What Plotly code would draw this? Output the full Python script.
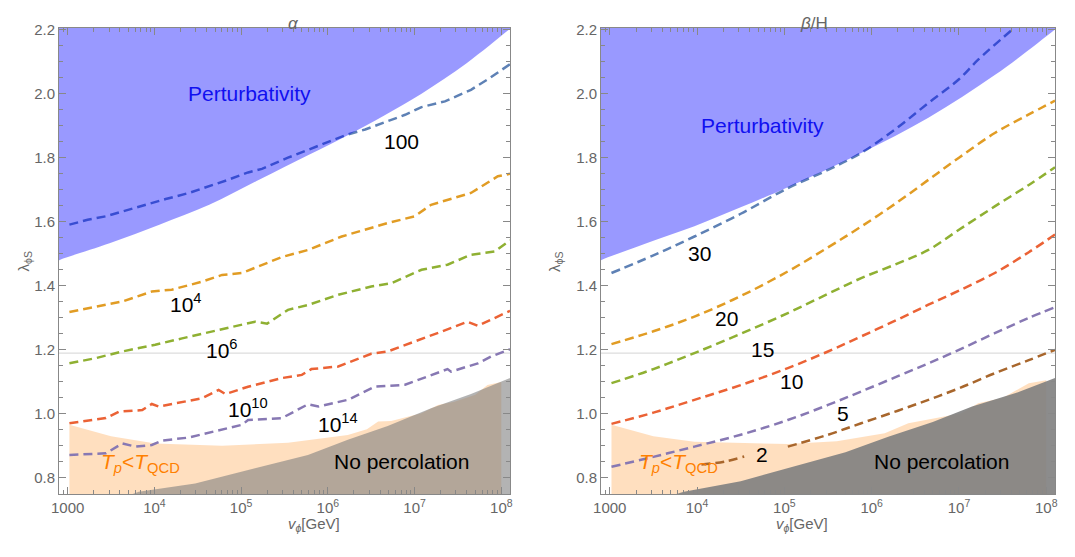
import plotly.graph_objects as go

# page is 1075x557; the browser body adds an 8px margin, so the figure is 16px smaller
PAGE_W, PAGE_H = 1075, 557
OFF = 8
W, H = PAGE_W - 2 * OFF, PAGE_H - 2 * OFF
FONT = "Liberation Sans"


def px_x(p):
    return (p - OFF) / W


def px_y(p):
    return 1 - (p - OFF) / H


# ---------------- axis ticks ----------------
xtick_exp = [3, 4, 5, 6, 7, 8]
xtick_text = ["1000", "10<sup>4</sup>", "10<sup>5</sup>", "10<sup>6</sup>", "10<sup>7</sup>", "10<sup>8</sup>"]
ytick_vals = [0.8, 1.0, 1.2, 1.4, 1.6, 1.8, 2.0, 2.2]
ytick_text = ["0.8", "1.0", "1.2", "1.4", "1.6", "1.8", "2.0", "2.2"]

# ---------------- LEFT PANEL (alpha) : x = log10(v_phi/GeV), y = lambda_phiS ----------------
L_pert_x = [2.80, 2.908, 3.483, 4.057, 4.632, 5.207, 5.782, 6.24, 6.65, 7.08, 7.60, 8.09, 8.30]
L_pert_y = [1.468, 1.481, 1.533, 1.591, 1.653, 1.731, 1.809, 1.872, 1.932, 2.000, 2.095, 2.200, 2.245]

L_peach_x = [3.02, 3.50, 4.01, 4.78, 5.54, 6.23, 6.45, 6.58, 6.73, 7.08, 7.27, 7.46, 7.70, 7.84, 7.96, 8.00]
L_peach_y = [0.966, 0.930, 0.908, 0.901, 0.910, 0.934, 0.952, 0.976, 0.978, 1.002, 1.028, 1.038, 1.060, 1.090, 1.096, 1.100]

L_gray_x = [3.70, 3.82, 4.47, 5.16, 5.77, 6.23, 6.69, 7.19, 7.65, 8.10]
L_gray_y = [0.745, 0.757, 0.783, 0.830, 0.872, 0.919, 0.962, 1.018, 1.062, 1.112]

a100_x = [3.02, 3.23, 3.44, 3.63, 3.90, 4.13, 4.40, 4.63, 4.85, 5.08, 5.24, 5.54, 5.85, 6.20, 6.43, 6.69, 6.89, 7.08, 7.35, 7.65, 7.84, 8.10]
a100_y = [1.591, 1.606, 1.617, 1.632, 1.653, 1.671, 1.690, 1.710, 1.731, 1.754, 1.765, 1.800, 1.832, 1.870, 1.888, 1.913, 1.934, 1.958, 1.976, 2.012, 2.044, 2.092]

a1e4_x = [3.02, 3.32, 3.63, 3.97, 4.20, 4.55, 4.78, 5.01, 5.47, 5.77, 6.16, 6.69, 7.00, 7.19, 7.65, 7.96, 8.10]
a1e4_y = [1.318, 1.335, 1.351, 1.382, 1.388, 1.413, 1.434, 1.440, 1.490, 1.512, 1.554, 1.596, 1.617, 1.653, 1.690, 1.742, 1.750]

a1e6_x = [3.02, 3.32, 3.63, 4.01, 4.32, 4.85, 5.16, 5.30, 5.54, 5.77, 6.12, 6.50, 6.73, 7.08, 7.38, 7.65, 7.92, 8.10]
a1e6_y = [1.158, 1.174, 1.195, 1.216, 1.236, 1.268, 1.288, 1.282, 1.325, 1.340, 1.372, 1.398, 1.408, 1.450, 1.466, 1.497, 1.507, 1.542]

a1e10_x = [3.02, 3.44, 3.59, 3.86, 3.97, 4.05, 4.55, 4.74, 4.82, 5.08, 5.47, 5.70, 5.81, 6.12, 6.50, 6.69, 7.31, 7.61, 7.73, 8.10]
a1e10_y = [0.971, 0.987, 1.007, 1.012, 1.031, 1.023, 1.049, 1.075, 1.062, 1.085, 1.112, 1.122, 1.140, 1.148, 1.188, 1.195, 1.257, 1.288, 1.275, 1.322]

a1e14_x = [3.02, 3.44, 3.63, 3.78, 3.97, 4.09, 4.39, 4.78, 5.01, 5.08, 5.47, 5.77, 5.89, 6.23, 6.54, 6.89, 7.11, 7.38, 7.42, 7.73, 7.88, 8.10]
a1e14_y = [0.872, 0.877, 0.908, 0.898, 0.903, 0.917, 0.926, 0.950, 0.966, 0.981, 0.987, 1.030, 1.023, 1.044, 1.085, 1.091, 1.112, 1.140, 1.132, 1.158, 1.179, 1.202]

# ---------------- RIGHT PANEL (beta/H) ----------------
R_pert_x = [2.80, 2.90, 3.39, 3.97, 4.50, 5.04, 5.88, 6.65, 7.41, 8.10, 8.30]
R_pert_y = [1.466, 1.480, 1.530, 1.586, 1.645, 1.708, 1.815, 1.925, 2.058, 2.200, 2.245]

R_peach_x = [3.02, 3.50, 3.97, 5.04, 5.60, 6.15, 6.42, 7.03, 7.22, 7.50, 7.80, 8.00]
R_peach_y = [0.966, 0.930, 0.913, 0.906, 0.915, 0.940, 0.971, 1.002, 1.033, 1.050, 1.096, 1.105]

R_gray_x = [3.70, 3.85, 4.50, 5.11, 5.70, 6.19, 6.70, 7.15, 7.65, 8.10]
R_gray_y = [0.745, 0.757, 0.790, 0.835, 0.880, 0.929, 0.975, 1.023, 1.065, 1.112]

b30_x = [3.02, 3.50, 3.97, 4.50, 5.04, 5.50, 5.88, 6.30, 6.65, 7.00, 7.22, 7.61]
b30_y = [1.440, 1.495, 1.554, 1.625, 1.705, 1.762, 1.815, 1.895, 1.971, 2.045, 2.106, 2.200]

b20_x = [3.02, 3.50, 3.97, 4.50, 5.04, 5.50, 5.88, 6.30, 6.65, 7.00, 7.41, 7.80, 8.10]
b20_y = [1.218, 1.258, 1.304, 1.368, 1.445, 1.520, 1.585, 1.662, 1.731, 1.800, 1.877, 1.935, 1.978]

b15_x = [3.02, 3.50, 3.97, 4.50, 5.04, 5.50, 5.88, 6.30, 6.65, 7.00, 7.41, 7.80, 8.10]
b15_y = [1.096, 1.140, 1.190, 1.250, 1.315, 1.375, 1.424, 1.470, 1.512, 1.575, 1.648, 1.715, 1.770]

b10_x = [3.02, 3.50, 3.97, 4.50, 5.04, 5.50, 5.88, 6.30, 6.65, 7.00, 7.41, 7.80, 8.10]
b10_y = [0.969, 1.004, 1.044, 1.090, 1.143, 1.195, 1.242, 1.295, 1.341, 1.385, 1.440, 1.505, 1.560]

b5_x = [3.02, 3.50, 3.97, 4.50, 5.04, 5.50, 5.88, 6.30, 6.65, 7.00, 7.41, 7.80, 8.10]
b5_y = [0.835, 0.866, 0.898, 0.935, 0.981, 1.028, 1.070, 1.118, 1.158, 1.200, 1.252, 1.300, 1.333]

b2a_x = [4.05, 4.31, 4.54]
b2a_y = [0.842, 0.851, 0.867]
b2b_x = [5.04, 5.50, 5.88, 6.30, 6.65, 7.00, 7.41, 7.80, 8.10]
b2b_y = [0.898, 0.935, 0.971, 1.010, 1.044, 1.080, 1.127, 1.168, 1.200]

# ---------------- labels ----------------
L_labels = [(5.10, 2.002, "Perturbativity", "#1010F0"),
            (6.85, 1.851, "100", "black"),
            (4.36, 1.346, "10<sup>4</sup>", "black"),
            (4.78, 1.203, "10<sup>6</sup>", "black"),
            (5.08, 1.020, "10<sup>10</sup>", "black"),
            (6.12, 0.973, "10<sup>14</sup>", "black"),
            (3.84, 0.846, "<i>T</i><sub><i>p</i></sub>&lt;<i>T</i><sub>QCD</sub>", "#FF8000"),
            (6.85, 0.851, "No percolation", "black")]
R_labels = [(4.75, 1.900, "Perturbativity", "#1010F0"),
            (4.03, 1.502, "30", "black"),
            (4.34, 1.299, "20", "black"),
            (4.75, 1.200, "15", "black"),
            (5.08, 1.101, "10", "black"),
            (5.67, 1.002, "5", "black"),
            (4.74, 0.872, "2", "black"),
            (3.79, 0.846, "<i>T</i><sub><i>p</i></sub>&lt;<i>T</i><sub>QCD</sub>", "#FF8000"),
            (6.80, 0.851, "No percolation", "black")]

C_BLUE, C_ORANGE, C_GREEN, C_RED, C_PURPLE, C_BROWN = "#5E81B5", "#E19C24", "#8FB032", "#EB6235", "#8778B3", "#A8662C"

fig = go.Figure()


def pw(lst):
    return [10 ** v for v in lst]


def add_line(xs, ys, color, xa, ya, shape="linear"):
    fig.add_trace(go.Scatter(x=pw(xs), y=ys, mode="lines", xaxis=xa, yaxis=ya,
                             line=dict(color=color, width=2.5, dash="9px,5px", shape=shape),
                             hoverinfo="skip", showlegend=False))


def add_poly(xs, ys, color, xa, ya, shape="linear"):
    fig.add_trace(go.Scatter(x=pw(xs), y=ys, mode="lines", fill="toself", fillcolor=color,
                             line=dict(width=0, color="rgba(0,0,0,0)", shape=shape), xaxis=xa, yaxis=ya,
                             hoverinfo="skip", showlegend=False))


for (xa, ya, peach_x, peach_y, gray_x, gray_y, gray_col) in [
        ("x", "y", L_peach_x, L_peach_y, L_gray_x, L_gray_y, "rgba(128,128,128,0.6)"),
        ("x2", "y2", R_peach_x, R_peach_y, R_gray_x, R_gray_y, "rgba(128,128,128,0.9)")]:
    # T_p < T_QCD region
    add_poly([peach_x[0]] + peach_x + [peach_x[-1]], [0.70] + peach_y + [0.70], "rgba(255,128,0,0.25)", xa, ya)
    # No percolation region
    add_poly(gray_x + [8.3, 8.3], gray_y + [1.13, 0.70], gray_col, xa, ya)

# contour lines
for xs, ys, c in [(a100_x, a100_y, C_BLUE), (a1e4_x, a1e4_y, C_ORANGE), (a1e6_x, a1e6_y, C_GREEN),
                  (a1e10_x, a1e10_y, C_RED), (a1e14_x, a1e14_y, C_PURPLE)]:
    add_line(xs, ys, c, "x", "y")
for xs, ys, c in [(b30_x, b30_y, C_BLUE), (b20_x, b20_y, C_ORANGE), (b15_x, b15_y, C_GREEN),
                  (b10_x, b10_y, C_RED), (b5_x, b5_y, C_PURPLE), (b2a_x, b2a_y, C_BROWN), (b2b_x, b2b_y, C_BROWN)]:
    add_line(xs, ys, c, "x2", "y2", shape="spline")

# perturbativity regions (on top of lines, semi-transparent)
add_poly(L_pert_x + [8.3, 2.8], L_pert_y + [2.4, 2.4], "rgba(0,0,255,0.4)", "x", "y", shape="spline")
add_poly(R_pert_x + [8.3, 2.8], R_pert_y + [2.4, 2.4], "rgba(0,0,255,0.4)", "x2", "y2", shape="spline")

annotations = []
for xr, yr, labs in [("x", "y", L_labels), ("x2", "y2", R_labels)]:
    for lx, ly, t, c in labs:
        annotations.append(dict(x=lx, y=ly, xref=xr, yref=yr, text=t, showarrow=False,
                                font=dict(family=FONT, size=21, color=c)))

axis_font = dict(family=FONT, size=15, color="#666666")
title_font = dict(family=FONT, size=17, color="#666666")
# panel titles, axis titles
for cx, title in [(286, "<i>α</i>"), (830, "<i>β</i>/H")]:
    annotations.append(dict(x=px_x(cx), y=px_y(12), xref="paper", yref="paper", text=title,
                            showarrow=False, font=title_font))
    annotations.append(dict(x=px_x(cx), y=px_y(536), xref="paper", yref="paper",
                            text="<i>v</i><sub><i>ϕ</i></sub>[GeV]", showarrow=False, font=axis_font))
for cx in [13, 556]:
    annotations.append(dict(x=px_x(cx), y=px_y(262), xref="paper", yref="paper",
                            text="λ<sub>ϕS</sub>", textangle=-90, showarrow=False, font=axis_font))

minor_x = [m * 10 ** k for k in range(2, 9) for m in range(2, 10)]
minor_y = [round(0.75 + 0.05 * i, 2) for i in range(0, 31)]
minor_y = [v for v in minor_y if abs(v * 5 - round(v * 5)) > 1e-6]

common_x = dict(type="log", range=[2.9, 8.1], tickmode="array", tickvals=[10 ** e for e in xtick_exp],
                ticktext=xtick_text, ticks="inside", ticklen=7, tickcolor="#888888", showline=True,
                linecolor="#888888", linewidth=1, mirror="allticks", showgrid=False, zeroline=False,
                tickfont=axis_font, automargin=False,
                minor=dict(tickmode="array", tickvals=minor_x, ticks="inside", ticklen=4,
                           tickcolor="#888888", showgrid=False))
common_y = dict(range=[0.75, 2.205], tickmode="array", tickvals=ytick_vals, ticktext=ytick_text,
                ticks="inside", ticklen=7, tickcolor="#888888", showline=True, linecolor="#888888",
                linewidth=1, mirror="allticks", showgrid=False, zeroline=False, tickfont=axis_font,
                automargin=False,
                minor=dict(tickmode="array", tickvals=minor_y, ticks="inside", ticklen=4,
                           tickcolor="#888888", showgrid=False))

ydom = [px_y(494), px_y(28)]
fig.update_layout(
    width=W, height=H, margin=dict(l=0, r=0, t=0, b=0),
    paper_bgcolor="white", plot_bgcolor="white", showlegend=False,
    xaxis=dict(common_x, domain=[px_x(59), px_x(510)], anchor="y"),
    yaxis=dict(common_y, domain=ydom, anchor="x"),
    xaxis2=dict(common_x, domain=[px_x(601), px_x(1055)], anchor="y2"),
    yaxis2=dict(common_y, domain=ydom, anchor="x2"),
    annotations=annotations,
    shapes=[dict(type="line", xref="x domain", yref="y", x0=0, x1=1, y0=1.19, y1=1.19,
                 line=dict(color="#DDDDDD", width=1.2), layer="below"),
            dict(type="line", xref="x2 domain", yref="y2", x0=0, x1=1, y0=1.19, y1=1.19,
                 line=dict(color="#DDDDDD", width=1.2), layer="below")],
)

fig.write_html("out.html")
